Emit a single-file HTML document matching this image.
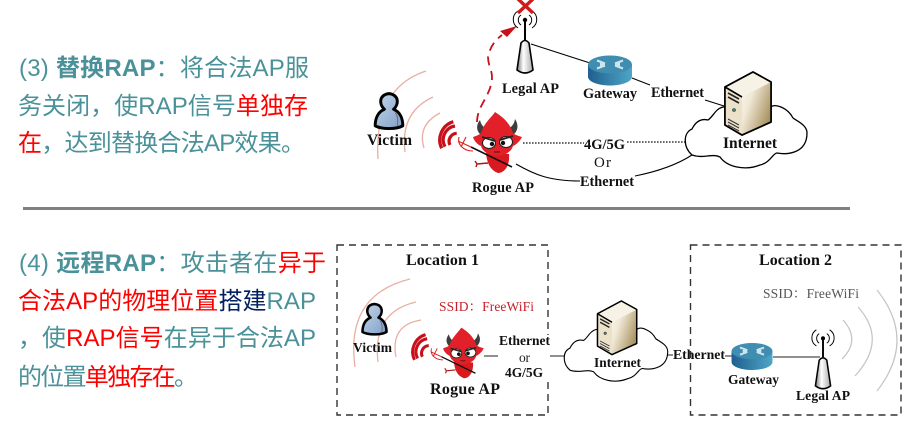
<!DOCTYPE html>
<html lang="zh"><head><meta charset="utf-8"><style>
html,body{margin:0;padding:0;background:#fff;width:918px;height:447px;overflow:hidden}
svg{display:block}
.t{font-family:"Liberation Sans","Noto Sans CJK SC",sans-serif;font-size:24px;fill:#4a9199}
.t .b{font-weight:bold}.t .r{fill:#ff0000}.t .n{fill:#002060}
.l{font-family:"Liberation Serif","Noto Serif CJK SC",serif;font-weight:bold;fill:#111;font-size:14.3px}
.s{font-family:"Liberation Serif","Noto Serif CJK SC",serif;font-size:13.5px}
</style></head><body>
<svg width="918" height="447" viewBox="0 0 918 447" xmlns="http://www.w3.org/2000/svg">
<defs>
<linearGradient id="rg" x1="0" x2="1" y1="0" y2="0"><stop offset="0" stop-color="#1f5f8f"/><stop offset="1" stop-color="#4fa6c6"/></linearGradient>
<linearGradient id="sg" x1="0" x2="1" y1="0" y2="0.6"><stop offset="0" stop-color="#faf6ec"/><stop offset=".35" stop-color="#f0e8d6"/><stop offset="1" stop-color="#a8925f"/></linearGradient>
<linearGradient id="pg" x1="0" x2="1" y1="0" y2="1"><stop offset="0" stop-color="#c4d6ec"/><stop offset="1" stop-color="#7f9fc6"/></linearGradient>
<linearGradient id="ag" x1="0" x2="1" y1="0" y2="0"><stop offset="0" stop-color="#777"/><stop offset=".4" stop-color="#fff"/><stop offset="1" stop-color="#aaa"/></linearGradient>
<g id="router">
<path d="M-22,-6V6C-22,12-10,15 0,15S22,12 22,6V-6Z" fill="url(#rg)"/>
<ellipse cx="0" cy="-6" rx="22" ry="9" fill="#3f8db0"/>
<path d="M-13,-10l8,3M-5,-7l-5,0M13,-10l-8,3M5,-7l5,0M-13,-2l8,-3M-5,-5l-5,0M13,-2l-8,-3M5,-5l5,0" stroke="#cfe3ee" stroke-width="2.2" fill="none"/>
</g>
<g id="server">
<path d="M-17,-35 11,-50 29,-40 29,0 0,13 -17,3Z" fill="#f0e8d6" stroke="#000" stroke-width="1.8" stroke-linejoin="round"/>
<path d="M0,-25 29,-40 29,0 0,13Z" fill="url(#sg)"/>
<path d="M-17,-35 11,-50 29,-40 0,-25Z" fill="#f7f2e6"/>
<path d="M-17,-35 0,-25 0,13 -17,3Z" fill="#ece2ca"/>
<path d="M-17,-35 11,-50 29,-40 29,0 0,13 -17,3Z M-17,-35 0,-25" fill="none" stroke="#000" stroke-width="1.6" stroke-linejoin="round"/>
<path d="M-14,-29 -3,-23M-14,-25 -3,-19" stroke="#222" stroke-width="1.6"/>
<circle cx="-8" cy="-12" r="1.5" fill="#3a8a7a" stroke="#333" stroke-width=".6"/>
<path d="M-14,-3 -3,3M-14,0 -3,6M-14,3 -3,9" stroke="#333" stroke-width="1"/>
</g>
<g id="person">
<path d="M-5,-3C-11,-8-11,-19 0,-20 11,-19 11,-8 5,-3 12,0 15,7 15,15 8,19-8,19-15,15-15,7-12,0-5,-3Z" fill="url(#pg)" stroke="#000" stroke-width="3.2" stroke-linejoin="round"/>
<path d="M7,1C10,5 10,10 9,15" stroke="#666" stroke-width="1" fill="none"/>
</g>
<g id="ap">
<path d="M-8,23 -4,-4Q0,-9 4,-4L8,23Q0,29 -8,23Z" fill="url(#ag)" stroke="#000" stroke-width="1.6"/>
<path d="M0,-7V-26" stroke="#000" stroke-width="2"/>
<circle cx="0" cy="-27" r="2.2" fill="#000"/>
<path d="M-4,-32a6,6 0 0 0 0,10M4,-32a6,6 0 0 1 0,10M-7,-36a10,10 0 0 0 0,17M7,-36a10,10 0 0 1 0,17" fill="none" stroke="#000" stroke-width="1"/>
</g>
<g id="devil">
<path d="M-11,8C-10,18-7,25 1,28 8,28 13,20 12,9Z" fill="#d8191f"/>
<path d="M-9,18-20,19M-20,19l-2,-3M-20,19l-1,3" stroke="#b01515" stroke-width="1.4" fill="none"/>
<path d="M-16,-10C-21,-14-21,-20-17,-25-16,-20-13,-17-8,-15Z M16,-10C21,-14 22,-20 18,-26 17,-20 14,-17 8,-15Z" fill="#3d3d3d"/>
<path d="M-2,-33C4,-29 12,-24 16,-12 18,-10 22,-9 25,-8 23,-4 19,0 16,1 12,14-12,14-16,1-19,0-23,-4-24,-8-21,-9-18,-10-16,-12-13,-22-6,-27-2,-33Z" fill="#e2202a"/>
<ellipse cx="-8" cy="-2" rx="6.5" ry="5.5" fill="#fff" stroke="#222" stroke-width="1.1"/>
<ellipse cx="9" cy="-3" rx="6.5" ry="5.5" fill="#fff" stroke="#222" stroke-width="1.1"/>
<circle cx="-5" cy="-1" r="2.2" fill="#111"/><circle cx="6" cy="-2" r="2.2" fill="#111"/>
<path d="M-15,-8-2,-4M16,-9 3,-5" stroke="#222" stroke-width="1.8"/>
<path d="M-3,7h6" stroke="#511" stroke-width="1"/>
<path d="M-26,2 15,22" stroke="#111" stroke-width="1.6"/>
<path d="M-26,2-39,-4M-38,-8C-40,-1-34,6-24,6M-31,-8-36,2" stroke="#d82020" stroke-width="1.1" fill="none"/>
</g>
<g id="sig" fill="none" stroke="#c8101a">
<path d="M-1.300,-6.700A8,8 0 0 0 -8,5" stroke-width="3.2"/>
<path d="M-3,-14A14,14 0 0 0 -13,6.700" stroke-width="3.2"/>
<path d="M-4.700,-18.300A19,19 0 0 0 -16.300,8.300" stroke-width="3.2"/>
</g>
<path id="cloud" d="M38,4C30,6 28,14 23,17 15,15 10,20 7,26 -2,30 -2,44 7,52 18,56 27,50 35,54 42,64 60,68 75,62 85,60 88,50 92,50 103,52 122,50 122,30 122,22 112,18 108,15 103,5 90,0 86,4Z" fill="#fff" stroke="#000" stroke-width="1.3"/>
</defs>

<!-- left text -->
<text class="t" x="19" y="76" textLength="290">(3) <tspan class="b">替换RAP</tspan>&#xFF1A;将合法AP服</text>
<text class="t" x="18" y="114" textLength="290">务关闭&#xFF0C;使RAP信号<tspan class="r">单独存</tspan></text>
<text class="t" x="18" y="151" textLength="287"><tspan class="r">在</tspan>&#xFF0C;达到替换合法AP效果。</text>
<rect x="23" y="207" width="827" height="3" fill="#808080"/>
<text class="t" x="19" y="271" textLength="307">(4) <tspan class="b">远程RAP</tspan>&#xFF1A;攻击者在<tspan class="r">异于</tspan></text>
<text class="t" x="18" y="309" textLength="298"><tspan class="r">合法AP的物理位置</tspan><tspan class="n">搭建</tspan>RAP</text>
<text class="t" x="18" y="346" textLength="298">&#xFF0C;使<tspan class="r">RAP信号</tspan>在异于合法AP</text>
<text class="t" x="18" y="385" textLength="180">的位置<tspan class="r">单独存在</tspan>。</text>

<!-- top diagram -->
<g fill="none" stroke="#e8b0a2" stroke-width="1.3">
<path d="M426,71Q374,88 378,159"/><path d="M433,97Q400,112 405,152"/><path d="M440,113Q417,125 424,148"/>
</g>
<use href="#person" transform="translate(389,112) scale(.92)"/>
<text class="l" x="367" y="145" textLength="45" style="font-size:15.500px">Victim</text>
<use href="#sig" x="458" y="140"/>
<use href="#devil" x="497" y="145"/>
<text class="l" x="472" y="192" textLength="62">Rogue AP</text>
<path d="M477,122C477,105 492,95 492,77 492,70 488,65 488,57 490,48 493,42 502,35" fill="none" stroke="#c8101a" stroke-width="1.8" stroke-dasharray="9,6"/>
<path d="M517,26 500,31 507,37Z" fill="#c8101a"/>
<use href="#ap" x="525" y="47"/>
<path d="M518,-1 533,13M533,-1 518,13" stroke="#d01a1a" stroke-width="3.4"/>
<text class="l" x="502" y="93" textLength="57">Legal AP</text>
<path d="M531,44 590,63M632,78 650,85M705,100 724,106" stroke="#000" stroke-width="1.1" fill="none"/>
<use href="#router" x="610" y="70.500"/>
<text class="l" x="583" y="98" textLength="54">Gateway</text>
<text class="l" x="651" y="97" textLength="53">Ethernet</text>
<path d="M523,143H584M627,142H685" stroke="#111" stroke-width="1.2" stroke-dasharray="1.6,1.4"/>
<text class="l" x="584" y="149" textLength="41" style="font-size:14.500px">4G/5G</text>
<text class="l" x="594" y="167" textLength="17" style="font-weight:normal;font-size:15px">Or</text>
<text class="l" x="580" y="186" textLength="54">Ethernet</text>
<path d="M516,164C535,175 550,181 580,181M635,176C655,172 675,166 692,155" fill="none" stroke="#000" stroke-width="1.1"/>
<use href="#cloud" x="685" y="103"/>
<use href="#server" x="742" y="122"/>
<text class="l" x="723" y="148" textLength="54" style="font-size:15.500px">Internet</text>

<!-- bottom boxes -->
<rect x="337" y="245" width="211" height="170" fill="none" stroke="#333" stroke-width="1.4" stroke-dasharray="7,5"/>
<rect x="690.500" y="245" width="210.500" height="170" fill="none" stroke="#333" stroke-width="1.4" stroke-dasharray="7,5"/>
<rect x="545" y="335" width="8" height="42" fill="#fff"/>
<text class="l" x="406" y="265" textLength="73" style="font-size:16px">Location 1</text>
<text class="l" x="759" y="265" textLength="73" style="font-size:16px">Location 2</text>
<text class="s" x="439" y="311" textLength="95" fill="#c8202a">SSID&#xFF1A;FreeWiFi</text>
<text class="s" x="763" y="298" textLength="96" fill="#555">SSID&#xFF1A;FreeWiFi</text>
<g fill="none" stroke="#e8b0a2" stroke-width="1.3">
<path d="M410,279Q345,295 355,367"/><path d="M416,302Q372,312 378,362"/><path d="M421,320Q390,325 396,357"/>
</g>
<use href="#person" transform="translate(374.500,320) scale(.8)"/>
<text class="l" x="353" y="352" textLength="39" style="font-size:13.500px">Victim</text>
<use href="#sig" transform="translate(430,352) scale(.95)"/>
<use href="#devil" transform="translate(463,355) scale(.83)"/>
<text class="l" x="430" y="394" textLength="70" style="font-size:16px">Rogue AP</text>
<text class="l" x="499" y="345" textLength="51" style="font-size:13.500px">Ethernet</text>
<text class="s" x="519" y="362" textLength="11" fill="#222">or</text>
<text class="l" x="505" y="377" textLength="38" style="font-size:13.400px">4G/5G</text>
<path d="M484,356H498M550,356H565M667,355H673M725,356H733M773,357H820" stroke="#222" stroke-width="1.1"/>
<use href="#cloud" transform="translate(564,326) scale(.85)"/>
<use href="#server" transform="translate(612,343.500) scale(.85)"/>
<text class="l" x="594" y="367" textLength="47" style="font-size:13.400px">Internet</text>
<text class="l" x="673" y="359" textLength="52" style="font-size:13.800px">Ethernet</text>
<use href="#router" transform="translate(752,356.500) scale(.93,.9)"/>
<text class="l" x="728" y="384" textLength="51" style="font-size:13.500px">Gateway</text>
<use href="#ap" transform="translate(823,364) scale(.95)"/>
<text class="l" x="796" y="400" textLength="54" style="font-size:13.600px">Legal AP</text>
<g fill="none" stroke="#c4c4c4" stroke-width="1.2">
<path d="M843,320Q861,340 842,359"/><path d="M858,307Q888,340 855,376"/><path d="M877,290Q917,340 877,391"/>
</g>
</svg>
</body></html>
